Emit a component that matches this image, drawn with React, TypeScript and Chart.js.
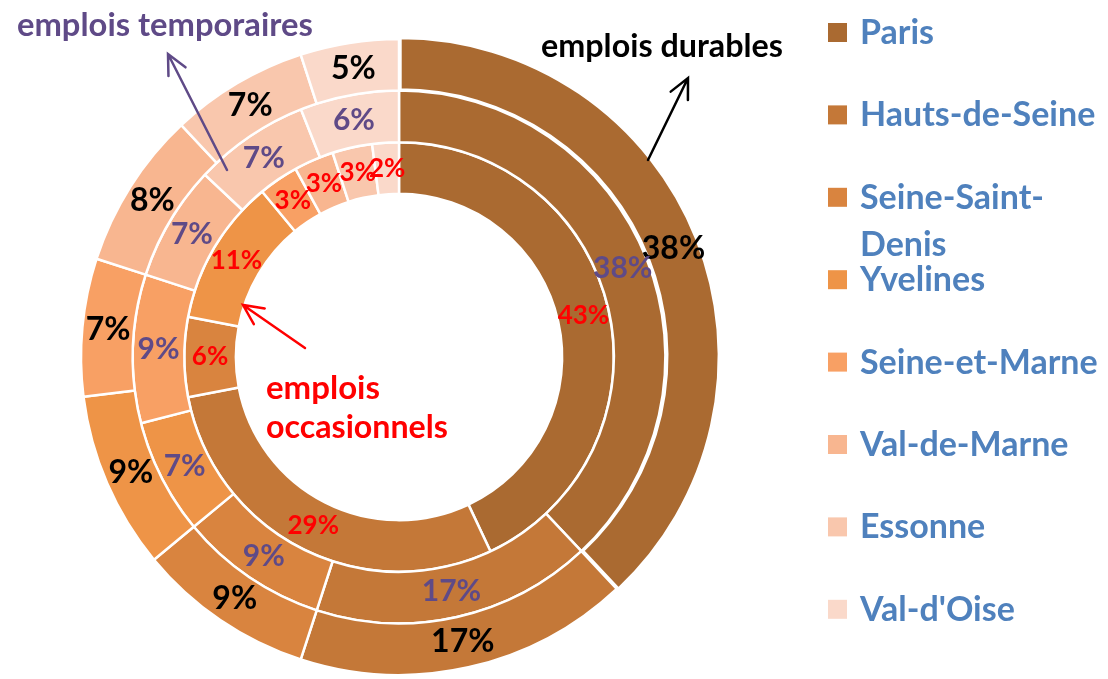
import React, { useEffect, useRef } from 'react';
import { Chart, registerables } from 'chart.js';

Chart.register(...registerables);

const departements = ['Paris', 'Hauts-de-Seine', 'Seine-Saint-Denis', 'Yvelines', 'Seine-et-Marne', 'Val-de-Marne', 'Essonne', "Val-d'Oise"];
const legendLines = [['Paris'], ['Hauts-de-Seine'], ['Seine-Saint-', 'Denis'], ['Yvelines'], ['Seine-et-Marne'], ['Val-de-Marne'], ['Essonne'], ["Val-d'Oise"]];
const durables = [38, 17, 9, 9, 7, 8, 7, 5];
const temporaires = [38, 17, 9, 7, 9, 7, 7, 6];
const occasionnels = [43, 29, 6, 11, 3, 3, 3, 2];
const seriesNames = ['emplois durables', 'emplois temporaires', 'emplois occasionnels'];
const colors = ['#AA6A31', '#C47838', '#D9843F', '#EE9447', '#F8A064', '#F8B690', '#F9C7AD', '#FAD9CA'];

const FONT = "Lato, 'Noto Sans', sans-serif";
const labelStyles = [
  { color: '#000000', size: 32, weight: 'bold' },
  { color: '#5F4A87', size: 30, weight: 'bold' },
  { color: '#FF0000', size: 26, weight: 'bold' },
];

function drawArrow(ctx: CanvasRenderingContext2D, x1: number, y1: number, x2: number, y2: number, color: string) {
  const ang = Math.atan2(y2 - y1, x2 - x1);
  const head = 22;
  const spread = 0.45;
  ctx.save();
  ctx.strokeStyle = color;
  ctx.lineWidth = 2.5;
  ctx.lineCap = 'round';
  ctx.beginPath();
  ctx.moveTo(x1, y1);
  ctx.lineTo(x2, y2);
  ctx.moveTo(x2 - head * Math.cos(ang - spread), y2 - head * Math.sin(ang - spread));
  ctx.lineTo(x2, y2);
  ctx.lineTo(x2 - head * Math.cos(ang + spread), y2 - head * Math.sin(ang + spread));
  ctx.stroke();
  ctx.restore();
}

function fitText(ctx: CanvasRenderingContext2D, text: string, x: number, y: number, width: number, weight: string, color: string) {
  ctx.font = `${weight} 100px ${FONT}`;
  const w = ctx.measureText(text).width;
  const size = (100 * width) / w;
  ctx.font = `${weight} ${size}px ${FONT}`;
  ctx.fillStyle = color;
  ctx.textAlign = 'left';
  ctx.textBaseline = 'middle';
  ctx.fillText(text, x, y);
}

const ringLabels = {
  id: 'ringLabels',
  afterDatasetsDraw(chart: any) {
    const ctx = chart.ctx as CanvasRenderingContext2D;
    ctx.save();
    ctx.textAlign = 'center';
    ctx.textBaseline = 'middle';
    chart.data.datasets.forEach((ds: any, di: number) => {
      const meta = chart.getDatasetMeta(di);
      const st = labelStyles[di];
      ctx.font = `${st.weight} ${st.size}px ${FONT}`;
      ctx.fillStyle = st.color;
      meta.data.forEach((arc: any, i: number) => {
        const p = arc.tooltipPosition(false);
        ctx.fillText(`${ds.data[i]}%`, p.x, p.y);
      });
    });
    ctx.restore();
  },
};

const decorations = {
  id: 'decorations',
  afterDraw(chart: any) {
    const ctx = chart.ctx as CanvasRenderingContext2D;
    ctx.save();
    // legend
    legendLines.forEach((lines, i) => {
      const y = 33 + i * 82.4;
      ctx.fillStyle = colors[i];
      ctx.fillRect(828, y - 10, 19, 19);
      ctx.font = `bold 34px ${FONT}`;
      ctx.fillStyle = '#4F81BD';
      ctx.textAlign = 'left';
      ctx.textBaseline = 'middle';
      lines.forEach((ln, k) => ctx.fillText(ln, 860, y + k * 47));
    });
    // series annotations
    fitText(ctx, seriesNames[0], 541, 47, 242, 'bold', '#000000');
    fitText(ctx, seriesNames[1], 17, 25, 296, 'bold', '#5F4A87');
    const occ = seriesNames[2].split(' ');
    fitText(ctx, occ[0], 266, 388, 114, 'bold', '#FF0000');
    fitText(ctx, occ[1], 266, 428, 182, 'bold', '#FF0000');
    drawArrow(ctx, 648, 160, 688, 78, '#000000');
    drawArrow(ctx, 227, 170, 168, 54, '#5F4A87');
    drawArrow(ctx, 305, 348, 243, 305, '#FF0000');
    ctx.restore();
  },
};

export default function App() {
  const ref = useRef<HTMLCanvasElement>(null);
  useEffect(() => {
    document.body.style.margin = '0';
    const chart = new Chart(ref.current as HTMLCanvasElement, {
      type: 'doughnut',
      data: {
        labels: departements,
        datasets: [
          { label: seriesNames[0], data: durables, backgroundColor: colors, borderColor: '#ffffff', borderWidth: 2.5, offset: [6, 0, 0, 0, 0, 0, 0, 0] },
          { label: seriesNames[1], data: temporaires, backgroundColor: colors, borderColor: '#ffffff', borderWidth: 2.5 },
          { label: seriesNames[2], data: occasionnels, backgroundColor: colors, borderColor: '#ffffff', borderWidth: 2.5 },
        ],
      },
      options: {
        responsive: false,
        animation: false,
        events: [],
        radius: 318,
        cutout: '51.3%',
        layout: { padding: { left: 0, right: 310, top: 35, bottom: 0 } },
        plugins: { legend: { display: false }, tooltip: { enabled: false } },
      } as any,
      plugins: [ringLabels, decorations],
    });
    return () => chart.destroy();
  }, []);
  return (
    <div style={{ width: 1108, height: 679, background: '#fff' }}>
      <canvas ref={ref} width={1108} height={679} style={{ display: 'block' }} />
    </div>
  );
}
